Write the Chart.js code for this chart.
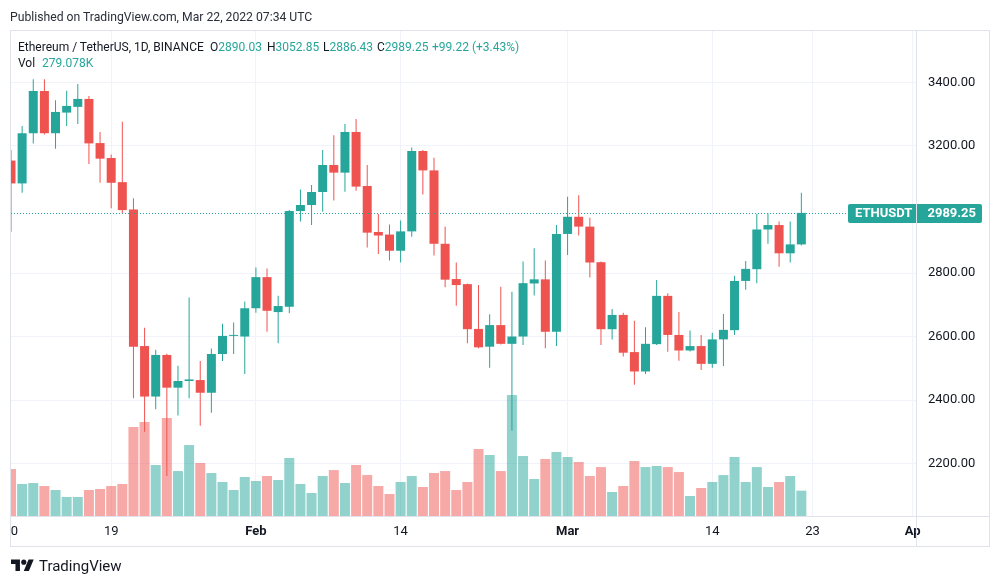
<!DOCTYPE html>
<html>
<head>
<meta charset="utf-8">
<script src="https://cdn.jsdelivr.net/npm/chart.js@4.4.0/dist/chart.umd.min.js"></script>
<style>
  html, body { margin: 0; padding: 0; background: #fff; }
  body { width: 1000px; height: 586px; position: relative; overflow: hidden; font-family: Roboto, "Open Sans", sans-serif; color: #131722; }
  canvas { position: absolute; left: 0; top: 0; }
  .txt { position: absolute; white-space: nowrap; font-size: 12px; line-height: 16px; }
  .up { color: #26a69a; }
  #footer { position: absolute; left: 11px; top: 557px; display: flex; align-items: center; gap: 5px; font-size: 15px; color: #131722; }
</style>
</head>
<body>
<canvas id="chart" width="1000" height="586"></canvas>

<div class="txt" style="left:10px; top:9px; font-size:12.2px; color:#2a2e39;">Published on TradingView.com, Mar 22, 2022 07:34 UTC</div>
<div class="txt" style="left:18px; top:39px;">Ethereum / TetherUS, 1D, BINANCE</div>
<div class="txt" style="left:210px; top:39px;">O<span class="up">2890.03</span></div>
<div class="txt" style="left:267px; top:39px;">H<span class="up">3052.85</span></div>
<div class="txt" style="left:323px; top:39px;">L<span class="up">2886.43</span></div>
<div class="txt" style="left:377px; top:39px;">C<span class="up">2989.25</span></div>
<div class="txt up" style="left:432px; top:39px;">+99.22 (+3.43%)</div>
<div class="txt" style="left:18px; top:55px;">Vol <span class="up" style="margin-left:4px;">279.078K</span></div>

<div id="footer">
  <svg width="23" height="18" viewBox="0 0 36 28"><path fill="#131722" d="M14 22H7V11H0V4h14v18zM28 22h-8l7.5-18h8L28 22z"/><circle fill="#131722" cx="20" cy="8" r="4"/></svg>
  <span>TradingView</span>
</div>

<script>
// ETH/USDT daily, Jan 10 - Mar 22 2022 (index 0 = Jan 10)
const opens = [3154, 3082, 3240, 3373, 3240, 3305, 3323, 3348, 3209, 3162,
  3086, 3000, 2570, 2411, 2542, 2439, 2460, 2463, 2423, 2545,
  2602, 2600, 2689, 2787, 2677, 2694, 2995, 3014, 3055, 3140,
  3116, 3244, 3074, 2929, 2921, 2870, 2931, 3184, 3123, 2892,
  2781, 2765, 2624, 2568, 2636, 2577, 2600, 2767, 2780, 2615,
  2923, 2977, 2946, 2834, 2623, 2668, 2551, 2490, 2576, 2728,
  2605, 2556, 2570, 2514, 2591, 2620, 2775, 2812, 2937, 2951,
  2862, 2890.03];
const highs = [3187, 3263, 3410, 3410, 3344, 3374, 3395, 3357, 3244, 3173,
  3276, 3035, 2628, 2558, 2546, 2508, 2723, 2523, 2562, 2640,
  2644, 2710, 2817, 2814, 2728, 2998, 3063, 3077, 3187, 3234,
  3269, 3285, 3140, 2986, 2953, 2965, 3195, 3187, 3163, 2946,
  2833, 2767, 2762, 2670, 2757, 2741, 2836, 2878, 2839, 2951,
  3040, 3045, 2974, 2836, 2687, 2675, 2650, 2629, 2778, 2736,
  2677, 2619, 2605, 2612, 2671, 2791, 2838, 2986, 2988, 2962,
  2962, 3052.85];
const lows = [2930, 3053, 3208, 3236, 3191, 3263, 3269, 3143, 3084, 3004,
  2988, 2406, 2300, 2371, 2161, 2351, 2406, 2319, 2360, 2523,
  2545, 2482, 2675, 2615, 2579, 2673, 2962, 2951, 2993, 3028,
  3056, 3059, 2880, 2860, 2839, 2833, 2914, 3047, 2855, 2755,
  2697, 2579, 2563, 2502, 2575, 2303, 2573, 2729, 2563, 2570,
  2857, 2918, 2786, 2573, 2591, 2537, 2448, 2482, 2573, 2552,
  2524, 2553, 2495, 2502, 2507, 2605, 2747, 2768, 2892, 2820,
  2833, 2886.43];
const closes = [3082, 3240, 3373, 3240, 3307, 3326, 3348, 3208, 3160, 3084,
  2998, 2568, 2411, 2542, 2439, 2460, 2465, 2423, 2545, 2602,
  2604, 2689, 2787, 2681, 2696, 2995, 3014, 3055, 3140, 3116,
  3244, 3072, 2927, 2918, 2870, 2931, 3184, 3123, 2892, 2779,
  2762, 2623, 2566, 2636, 2577, 2600, 2768, 2780, 2615, 2923,
  2977, 2946, 2833, 2623, 2668, 2549, 2490, 2577, 2728, 2605,
  2556, 2570, 2514, 2591, 2621, 2775, 2813, 2937, 2951, 2862,
  2890.03, 2989.25];
// volume in thousands of ETH
const volumes = [518, 353, 364, 331, 287, 210, 210, 287, 298, 331,
  353, 982, 1037, 563, 1081, 496, 783, 585, 474, 375,
  287, 430, 386, 441, 397, 640, 353, 254, 441, 507,
  364, 563, 452, 331, 243, 375, 441, 320, 474, 496,
  287, 375, 739, 673, 496, 1335, 662, 408, 629, 706,
  651, 596, 441, 540, 265, 331, 607, 540, 552, 540,
  485, 221, 309, 375, 452, 651, 375, 540, 320, 375,
  441, 279.078];

const xTickValues = [0.3, 9, 22, 35, 50, 63, 72, 81];
const xTickLabels = ['0', '19', 'Feb', '14', 'Mar', '14', '23', 'Ap'];
const monthTicks = ['Feb', 'Mar', 'Ap'];
const priceTicks = [2200, 2400, 2600, 2800, 3200, 3400];

const upColor = '#26a69a';
const downColor = '#ef5350';
const gridColor = '#f0f3fa';
const frameColor = '#e0e3eb';
const font = 'Roboto, "Open Sans", sans-serif';

const isUp = closes.map((c, i) => c >= opens[i]);
const candleColors = isUp.map(u => u ? upColor : downColor);
const volColors = isUp.map(u => u ? 'rgba(38,166,154,0.5)' : 'rgba(239,83,80,0.5)');
const lastPrice = closes[closes.length - 1];

// dotted last-price line + ETHUSDT tag
const priceLine = {
  id: 'priceLine',
  afterDatasetsDraw(chart) {
    const { ctx, chartArea, scales } = chart;
    const py = Math.round(scales.y.getPixelForValue(lastPrice)) + 0.5;
    ctx.save();
    ctx.strokeStyle = upColor;
    ctx.lineWidth = 1;
    ctx.setLineDash([1, 2]);
    ctx.beginPath();
    ctx.moveTo(chartArea.left, py);
    ctx.lineTo(chartArea.right, py);
    ctx.stroke();
    ctx.restore();
  },
  afterDraw(chart) {
    const { ctx, scales } = chart;
    const py = Math.round(scales.y.getPixelForValue(lastPrice));
    const right = scales.y.right - 7;
    const left = 848;
    ctx.save();
    ctx.fillStyle = upColor;
    ctx.beginPath();
    ctx.roundRect(left, py - 9, right - left, 19, 2);
    ctx.fill();
    ctx.fillStyle = '#fff';
    ctx.font = 'bold 13px ' + font;
    ctx.textBaseline = 'middle';
    ctx.textAlign = 'left';
    ctx.fillText('ETHUSDT', left + 7, py + 1);
    ctx.textAlign = 'right';
    ctx.fillText(lastPrice.toFixed(2), right - 6, py + 1);
    ctx.restore();
  }
};

// outer border and pane separators
const frame = {
  id: 'frame',
  afterDraw(chart) {
    const { ctx, chartArea, scales } = chart;
    const r = scales.y.right;
    const b = scales.x.bottom;
    ctx.save();
    ctx.strokeStyle = frameColor;
    ctx.lineWidth = 1;
    ctx.strokeRect(chartArea.left - 0.5, chartArea.top + 0.5, r - chartArea.left + 1, b - chartArea.top);
    ctx.beginPath();
    ctx.moveTo(chartArea.right + 0.5, chartArea.top);
    ctx.lineTo(chartArea.right + 0.5, b);
    ctx.moveTo(chartArea.left, chartArea.bottom + 0.5);
    ctx.lineTo(r, chartArea.bottom + 0.5);
    ctx.stroke();
    ctx.restore();
  }
};

new Chart(document.getElementById('chart'), {
  type: 'bar',
  data: {
    datasets: [
      {
        label: 'Body',
        data: opens.map((o, i) => ({ x: i, y: [o, closes[i]] })),
        backgroundColor: candleColors,
        barThickness: 9,
        minBarLength: 1,
        inflateAmount: 0,
        grouped: false,
        yAxisID: 'y',
        clip: 0,
        order: 1
      },
      {
        label: 'Wick',
        data: lows.map((l, i) => ({ x: i, y: [l, highs[i]] })),
        backgroundColor: candleColors,
        barThickness: 1,
        inflateAmount: 0,
        grouped: false,
        yAxisID: 'y',
        clip: 0,
        order: 2
      },
      {
        label: 'Volume',
        data: volumes.map((v, i) => ({ x: i, y: v })),
        backgroundColor: volColors,
        barThickness: 10,
        inflateAmount: 0,
        grouped: false,
        yAxisID: 'yv',
        clip: 0,
        order: 3
      }
    ]
  },
  options: {
    responsive: false,
    animation: false,
    layout: { padding: { left: 11, top: 30, right: 11, bottom: 40 } },
    plugins: { legend: { display: false }, tooltip: { enabled: false } },
    scales: {
      x: {
        type: 'linear',
        min: 0,
        max: 81.3,
        offset: false,
        afterBuildTicks: s => { s.ticks = xTickValues.map(v => ({ value: v })); },
        afterFit: s => { s.height = 30; },
        ticks: {
          autoSkip: false,
          maxRotation: 0,
          padding: 8,
          color: '#131722',
          font: c => ({ family: font, size: 13, weight: monthTicks.includes(xTickLabels[c.index]) ? 'bold' : 'normal' }),
          callback: (v, i) => xTickLabels[i]
        },
        grid: { offset: false, color: c => c.index === 0 ? 'rgba(0,0,0,0)' : gridColor, drawTicks: false },
        border: { display: false }
      },
      y: {
        position: 'right',
        min: 2035,
        max: 3565,
        afterBuildTicks: s => { s.ticks = priceTicks.map(v => ({ value: v })); },
        afterFit: s => { s.width = 73; },
        ticks: {
          padding: 12,
          color: '#131722',
          font: { family: font, size: 13 },
          callback: v => v.toFixed(2)
        },
        grid: { color: gridColor, drawTicks: false },
        border: { display: false }
      },
      yv: { display: false, min: 0, max: 5362 }
    }
  },
  plugins: [priceLine, frame]
});
</script>
</body>
</html>
